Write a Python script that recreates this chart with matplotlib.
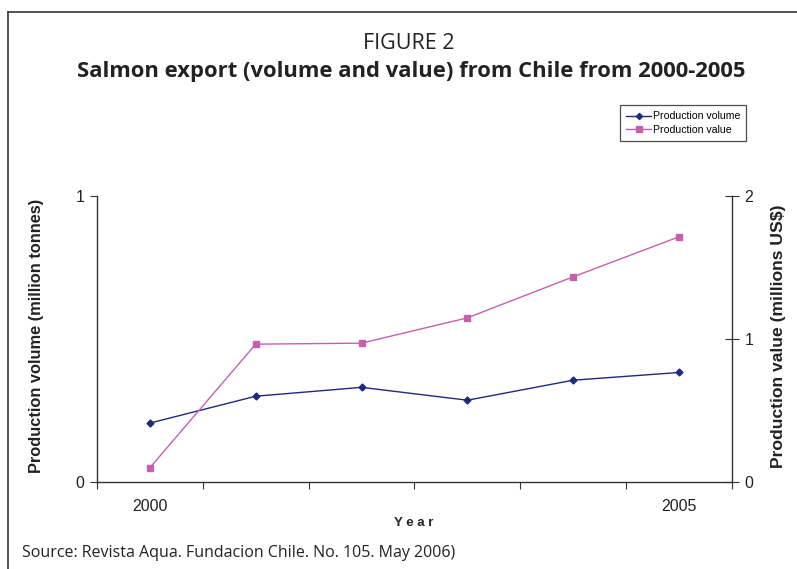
import matplotlib
matplotlib.use("Agg")
import matplotlib.pyplot as plt
from matplotlib.lines import Line2D

years = [2000, 2001, 2002, 2003, 2004, 2005]
volume = [0.206, 0.300, 0.331, 0.286, 0.356, 0.383]   # million tonnes
value = [0.10, 0.964, 0.971, 1.148, 1.435, 1.715]      # millions US$
shown_labels = {0: "2000", 5: "2005"}

navy = "#1f2a7c"
pink = "#c75fae"
axis_col = "#333333"
text_col = "#222222"

fig = plt.figure(figsize=(7.97, 5.69), dpi=100)
ax = fig.add_axes([0.1217, 0.1529, 0.7967, 0.5026])
ax2 = ax.twinx()

x = list(range(len(years)))
l1, = ax.plot(x, volume, color=navy, lw=1.0, marker="D", ms=3.5, label="Production volume")
l2, = ax2.plot(x, value, color=pink, lw=1.0, marker="s", ms=5, label="Production value")

ax.set_xlim(-0.5, len(years) - 0.5)
ax.set_ylim(0, 1)
ax2.set_ylim(0, 2)
ax.set_yticks([0, 1])
ax2.set_yticks([0, 1, 2])

# category boundaries as ticks, labels only on first and last year
ax.set_xticks([i - 0.5 for i in range(len(years) + 1)])
ax.set_xticklabels([])
ax.set_xticks(list(shown_labels.keys()), minor=True)
ax.set_xticklabels(list(shown_labels.values()), minor=True)
ax.tick_params(axis="x", which="major", direction="out", length=5, color=axis_col)
ax.tick_params(axis="x", which="minor", length=0, pad=12, labelsize=11.5, labelcolor=text_col)
ax.tick_params(axis="y", direction="out", length=5, color=axis_col, labelsize=11.5,
               labelcolor=text_col, pad=4)
ax2.tick_params(axis="y", direction="inout", length=10, color=axis_col, labelsize=11.5,
                labelcolor=text_col, pad=4)

for a in (ax, ax2):
    a.spines["top"].set_visible(False)
    for s in ("left", "right", "bottom"):
        a.spines[s].set_color(axis_col)
        a.spines[s].set_linewidth(1.0)
ax.spines["right"].set_visible(False)
ax2.spines["left"].set_visible(False)
ax2.spines["bottom"].set_visible(False)

fig.text(0.046, 0.409, "Production volume (million tonnes)", rotation=90, ha="center",
         va="center", fontsize=11.8, fontweight="bold", family="Liberation Sans", color=text_col)
fig.text(0.977, 0.409, "Production value (millions US$)", rotation=90, ha="center",
         va="center", fontsize=12.6, fontweight="bold", family="Liberation Sans", color=text_col)
for t in ax.get_xticklabels(minor=True) + ax.get_yticklabels() + ax2.get_yticklabels():
    t.set_family("Liberation Sans")

fig.text(0.519, 0.081, "Y e a r", ha="center", va="center", fontsize=9.5,
         fontweight="bold", family="Liberation Sans", color=text_col)

fig.text(0.513, 0.923, "FIGURE 2", ha="center", va="center", fontsize=15.5,
         family="Open Sans", color=text_col)
fig.text(0.516, 0.874, "Salmon export (volume and value) from Chile from 2000-2005",
         ha="center", va="center", fontsize=15.8, fontweight="bold", family="Open Sans",
         color=text_col)
fig.text(0.027, 0.028, "Source: Revista Aqua. Fundacion Chile. No. 105. May 2006)",
         ha="left", va="center", fontsize=11.5, family="Open Sans", color=text_col)

leg = fig.legend(handles=[l1, l2], loc="upper left", bbox_to_anchor=(0.778, 0.8155),
                 prop={"family": "Liberation Sans", "size": 7.6}, frameon=True,
                 fancybox=False, edgecolor="#222222", handlelength=2.3,
                 handletextpad=0.2, borderpad=0.6, labelspacing=0.35, markerscale=0.9,
                 borderaxespad=0)
leg.get_frame().set_linewidth(0.9)

# frame lines around the figure panel (top and left)
fig.add_artist(Line2D([0.010, 1.0], [0.979, 0.979], transform=fig.transFigure,
                      color="#444444", lw=1.3))
fig.add_artist(Line2D([0.010, 0.010], [0.0, 0.979], transform=fig.transFigure,
                      color="#444444", lw=1.3))

fig.savefig("out.png", dpi=100)
